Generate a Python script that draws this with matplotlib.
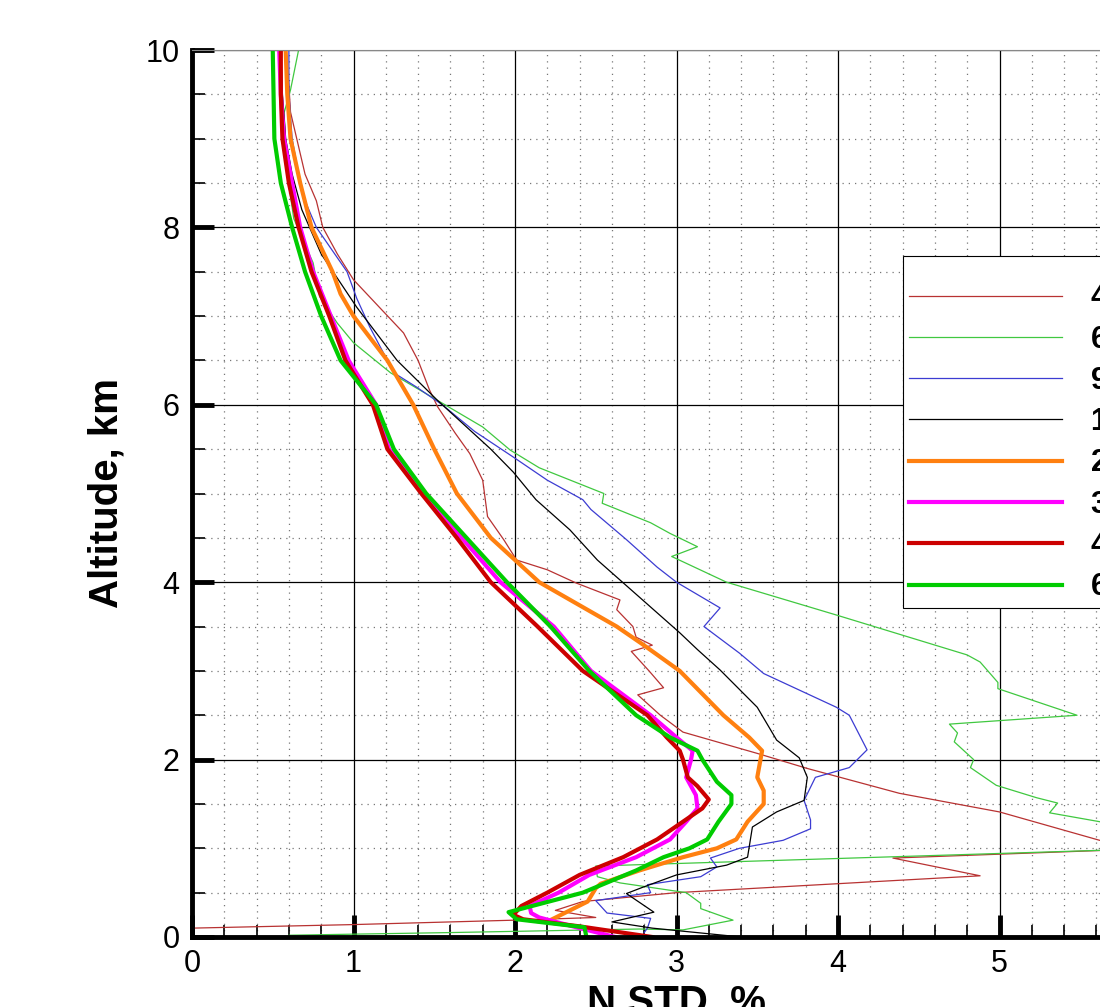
import matplotlib
matplotlib.use('Agg')
import matplotlib.pyplot as plt
from matplotlib.ticker import MultipleLocator

plt.rcParams['font.family'] = ['Liberation Sans', 'DejaVu Sans']

# Legend labels (only the first character is visible in the source image)
labels = ['4 h', '6 h', '9 h', '12 h', '24 h', '36 h', '48 h', '60 h']

# Thin dark red
std_a = [0.58, 0.60, 0.61, 0.70, 0.77, 0.81, 0.90, 1.00, 1.16, 1.31, 1.40, 1.47, 1.52, 1.63, 1.72,
         1.80, 1.83, 1.93, 2.01, 2.20, 2.38, 2.65, 2.63, 2.73, 2.75, 2.85, 2.72, 2.83, 2.92, 2.76,
         2.90, 3.04, 3.50, 3.81, 4.38, 5.00, 5.62, 6.00, 4.34, 4.88, 3.00, 2.42, 2.25, 2.50, 2.00,
         1.00, 0.00]
alt_a = [10.0, 9.6, 9.3, 8.6, 8.3, 8.0, 7.7, 7.41, 7.1, 6.81, 6.5, 6.17, 5.98, 5.68, 5.45,
         5.15, 4.74, 4.48, 4.25, 4.14, 3.99, 3.80, 3.69, 3.50, 3.38, 3.29, 3.22, 3.00, 2.81, 2.73,
         2.50, 2.31, 2.07, 1.90, 1.62, 1.41, 1.09, 1.00, 0.89, 0.69, 0.50, 0.40, 0.30, 0.22, 0.19,
         0.14, 0.10]

# Thin green
std_b = [0.66, 0.61, 0.57, 0.59, 0.63, 0.75, 0.79, 0.90, 1.00, 1.23, 1.52, 1.80, 1.97, 2.15, 2.55,
         2.54, 2.84, 2.96, 3.13, 2.97, 3.31, 3.99, 4.80, 4.88, 4.99, 4.99, 5.48, 4.69, 4.74, 4.72,
         4.84, 4.82, 4.98, 5.23, 5.36, 5.31, 5.62, 6.20, 2.50, 2.51, 2.65, 3.06, 3.15, 3.15, 3.35,
         3.04, 2.77, 1.60, 0.60]
alt_b = [10.0, 9.55, 9.29, 8.6, 8.1, 7.6, 7.22, 6.92, 6.7, 6.36, 6.05, 5.75, 5.49, 5.29, 5.00,
         4.89, 4.67, 4.55, 4.40, 4.29, 4.00, 3.63, 3.18, 3.10, 2.87, 2.80, 2.50, 2.40, 2.30, 2.20,
         2.00, 1.91, 1.71, 1.57, 1.51, 1.40, 1.30, 1.01, 0.80, 0.68, 0.61, 0.50, 0.38, 0.32, 0.19,
         0.08, 0.09, 0.05, 0.02]

# Thin blue
std_c = [0.60, 0.60, 0.62, 0.66, 0.70, 0.77, 0.96, 1.02, 1.10, 1.21, 1.25, 1.39, 1.55, 1.75, 1.99,
         2.20, 2.42, 2.47, 2.69, 2.88, 3.00, 3.27, 3.17, 3.39, 3.54, 3.99, 4.07, 4.18, 4.07, 3.86,
         3.79, 3.83, 3.83, 3.66, 3.39, 3.21, 3.25, 3.15, 2.82, 2.84, 2.50, 2.57, 2.84, 2.82, 2.80]
alt_c = [10.0, 9.5, 9.0, 8.6, 8.3, 8.0, 7.5, 7.2, 6.88, 6.5, 6.36, 6.2, 6.0, 5.7, 5.41,
         5.15, 4.93, 4.82, 4.48, 4.17, 4.00, 3.71, 3.50, 3.20, 2.97, 2.59, 2.50, 2.11, 1.91, 1.80,
         1.54, 1.32, 1.22, 1.09, 1.00, 0.89, 0.79, 0.68, 0.59, 0.50, 0.41, 0.27, 0.21, 0.10, 0.05]

# Thin black
std_d = [0.55, 0.56, 0.58, 0.62, 0.68, 0.80, 1.02, 1.27, 1.52, 1.85, 1.99, 2.13, 2.34, 2.51, 2.79,
         3.02, 3.13, 3.27, 3.50, 3.62, 3.76, 3.81, 3.79, 3.62, 3.47, 3.44, 3.31, 3.00, 2.79, 2.69,
         2.86, 2.60, 2.85, 3.40]
alt_d = [10.0, 9.5, 9.0, 8.6, 8.2, 7.7, 7.1, 6.5, 6.05, 5.5, 5.24, 4.93, 4.59, 4.25, 3.80,
         3.43, 3.24, 3.01, 2.59, 2.22, 2.02, 1.80, 1.54, 1.41, 1.24, 0.90, 0.81, 0.70, 0.56, 0.49,
         0.28, 0.17, 0.10, 0.00]

# Thick orange
std_e = [0.58, 0.59, 0.61, 0.67, 0.74, 0.87, 0.92, 1.00, 1.21, 1.37, 1.50, 1.64, 1.85, 2.15, 2.63,
         2.79, 3.02, 3.29, 3.45, 3.53, 3.52, 3.50, 3.54, 3.54, 3.44, 3.37, 3.25, 3.04, 2.77, 2.53,
         2.50, 2.45, 2.23]
alt_e = [10.0, 9.5, 9.0, 8.5, 8.0, 7.5, 7.25, 7.0, 6.5, 6.0, 5.5, 5.0, 4.5, 4.0, 3.5,
         3.3, 3.0, 2.5, 2.25, 2.1, 2.0, 1.8, 1.65, 1.5, 1.3, 1.1, 1.0, 0.9, 0.75, 0.6,
         0.55, 0.40, 0.20]

# Thick magenta
std_f = [0.54, 0.55, 0.57, 0.62, 0.67, 0.75, 0.86, 0.97, 1.14, 1.22, 1.44, 1.67, 1.91, 2.24, 2.47,
         2.84, 3.00, 3.10, 3.09, 3.06, 3.12, 3.13, 3.06, 2.96, 2.75, 2.46, 2.27, 2.09, 2.10, 2.15,
         2.40, 2.62]
alt_f = [10.0, 9.5, 9.0, 8.5, 8.0, 7.5, 7.0, 6.5, 6.0, 5.5, 5.0, 4.5, 4.0, 3.5, 3.0,
         2.5, 2.25, 2.1, 2.0, 1.8, 1.6, 1.45, 1.3, 1.1, 0.9, 0.7, 0.5, 0.35, 0.27, 0.22,
         0.10, 0.00]

# Thick dark red
std_g = [0.55, 0.55, 0.56, 0.60, 0.66, 0.74, 0.85, 0.95, 1.12, 1.21, 1.42, 1.64, 1.85, 2.14, 2.42,
         2.82, 2.94, 3.02, 3.04, 3.07, 3.13, 3.20, 3.16, 3.04, 2.88, 2.67, 2.40, 2.20, 2.04, 1.99,
         2.05, 2.40, 2.85]
alt_g = [10.0, 9.5, 9.0, 8.5, 8.0, 7.5, 7.0, 6.5, 6.0, 5.5, 5.0, 4.5, 4.0, 3.5, 3.0,
         2.5, 2.25, 2.1, 2.0, 1.8, 1.7, 1.55, 1.45, 1.3, 1.1, 0.9, 0.7, 0.5, 0.35, 0.25,
         0.20, 0.12, 0.00]

# Thick green
std_h = [0.50, 0.51, 0.55, 0.62, 0.70, 0.80, 0.92, 1.14, 1.25, 1.45, 1.70, 1.95, 2.22, 2.46, 2.75,
         2.96, 3.13, 3.16, 3.25, 3.34, 3.34, 3.26, 3.19, 3.08, 2.92, 2.75, 2.42, 1.96, 2.01, 2.43,
         2.44]
alt_h = [10.0, 9.0, 8.5, 8.0, 7.5, 7.0, 6.5, 6.0, 5.5, 5.0, 4.5, 4.0, 3.5, 3.0, 2.5,
         2.25, 2.1, 2.0, 1.75, 1.6, 1.5, 1.3, 1.1, 1.0, 0.9, 0.75, 0.5, 0.28, 0.2, 0.11,
         0.02]

series = [
    (std_a, alt_a, '#b83232', 0.9),
    (std_b, alt_b, '#40c840', 0.9),
    (std_c, alt_c, '#3c3cd2', 0.9),
    (std_d, alt_d, '#000000', 0.9),
    (std_e, alt_e, '#ff8010', 3.0),
    (std_f, alt_f, '#ff00ff', 3.0),
    (std_g, alt_g, '#cc0000', 3.0),
    (std_h, alt_h, '#00cc00', 3.0),
]

# Figure: the right part of the axes runs off the canvas, as in the source
fig = plt.figure(figsize=(11, 10.07), dpi=100)
ax = fig.add_axes([192 / 1100, 70 / 1007, 969 / 1100, 887 / 1007])

for (x, y, color, lw), label in zip(series, labels):
    ax.plot(x, y, color=color, linewidth=lw, label=label)

ax.set_xlim(0, 6)
ax.set_ylim(0, 10)
ax.xaxis.set_major_locator(MultipleLocator(1))
ax.xaxis.set_minor_locator(MultipleLocator(0.2))
ax.yaxis.set_major_locator(MultipleLocator(2))
ax.yaxis.set_minor_locator(MultipleLocator(0.5))

# Grid lines
ax.grid(which='major', color='black', linewidth=0.9, linestyle='-')
ax.grid(which='minor', color='#777777', linewidth=0.9, linestyle=(0, (1, 4)))
ax.set_axisbelow(True)

# Ticks
ax.tick_params(which='major', direction='in', length=16, width=3.5, labelsize=22, pad=9)
ax.tick_params(which='minor', direction='in', length=9, width=1.2)
ax.tick_params(top=False, right=False)

# Spines
ax.spines['left'].set_linewidth(3.5)
ax.spines['bottom'].set_linewidth(3.5)
ax.spines['top'].set_linewidth(0.8)
ax.spines['top'].set_color('#888888')

# Axis labels
ax.set_xlabel('N STD, %', fontsize=29, fontweight='bold', labelpad=3)
ax.set_ylabel('Altitude, km', fontsize=29, fontweight='bold', labelpad=14)

# Legend
leg = ax.legend(loc='upper left', bbox_to_anchor=(0.734, 0.768), frameon=True, fancybox=False,
                edgecolor='black', framealpha=1, borderaxespad=0, handlelength=5.0,
                handletextpad=0.95, labelspacing=0.37, borderpad=0.2,
                prop={'weight': 'bold', 'size': 22}, title=' ', title_fontsize=8)
leg.get_frame().set_linewidth(0.8)

fig.savefig('out.png', dpi=100)
